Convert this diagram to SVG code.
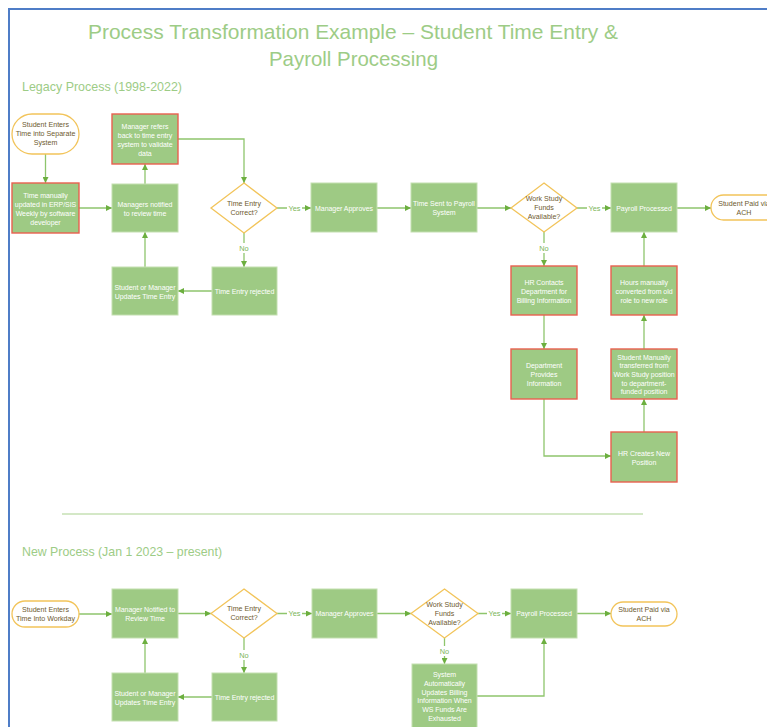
<svg xmlns="http://www.w3.org/2000/svg" width="767" height="727" viewBox="0 0 767 727">
<defs>
<marker id="ah" viewBox="0 0 10 10" refX="10" refY="5" markerWidth="6" markerHeight="6" markerUnits="userSpaceOnUse" orient="auto">
<path d="M0,0 L10,5 L0,10 z" fill="#6CAF3F"/>
</marker>
<style>
.bx{fill:#9ECA84;stroke:#C3DFB0;stroke-width:1}
.rd{fill:#9ECA84;stroke:#E9604F;stroke-width:1.4}
.pill{fill:#fff;stroke:#F2C45A;stroke-width:1.3}
.dm{fill:#fff;stroke:#F2C45A;stroke-width:1.3}
.t{font-family:"Liberation Sans",Arial,sans-serif;font-size:7px;letter-spacing:-0.05px;fill:#fff;text-anchor:middle;dominant-baseline:central}
.d{font-family:"Liberation Sans",Arial,sans-serif;font-size:7.1px;fill:#6E5A2F;text-anchor:middle;dominant-baseline:central}
.lb{font-family:"Liberation Sans",Arial,sans-serif;font-size:7.4px;fill:#7DB55A;text-anchor:middle;dominant-baseline:central}
.c{fill:none;stroke:#8EC56C;stroke-width:1.3;marker-end:url(#ah)}
.h{font-family:"Liberation Sans",Arial,sans-serif;fill:#9DCC86}
</style>
</defs>
<rect x="0" y="0" width="767" height="727" fill="#fff"/>
<path d="M9,727 V9 H767" fill="none" stroke="#4F7DC7" stroke-width="2"/>
<g id="title">
<text class="h" x="88" y="39" font-size="21" textLength="530" lengthAdjust="spacingAndGlyphs">Process Transformation Example – Student Time Entry &amp;</text>
<text class="h" x="269" y="66" font-size="21" textLength="169" lengthAdjust="spacingAndGlyphs">Payroll Processing</text>
<text class="h" x="22" y="91" font-size="13" textLength="160" lengthAdjust="spacingAndGlyphs">Legacy Process (1998-2022)</text>
<text class="h" x="22" y="556" font-size="13" textLength="200" lengthAdjust="spacingAndGlyphs">New Process (Jan 1 2023 – present)</text>
</g>
<line x1="62" y1="514" x2="643" y2="514" stroke="#A9D18E" stroke-width="1"/>

<g id="connectors">
<path class="c" d="M45.5,154 V183"/>
<path class="c" d="M79,208 H112"/>
<path class="c" d="M145,184 V164"/>
<path class="c" d="M178,139 H244 V183"/>
<path class="c" d="M277,208 H311"/>
<path class="c" d="M244,233 V267"/>
<path class="c" d="M212,291 H178"/>
<path class="c" d="M145,267 V232"/>
<path class="c" d="M377,208 H411"/>
<path class="c" d="M477,208 H511"/>
<path class="c" d="M577,208 H611"/>
<path class="c" d="M677,208 H711"/>
<path class="c" d="M544,232 V266"/>
<path class="c" d="M544,315 V349"/>
<path class="c" d="M544,399 V456 H611"/>
<path class="c" d="M644,432 V399"/>
<path class="c" d="M644,349 V315"/>
<path class="c" d="M644,266 V232"/>

<path class="c" d="M79,614 H112"/>
<path class="c" d="M178,613.5 H211"/>
<path class="c" d="M277,613.5 H312"/>
<path class="c" d="M244,638 V673"/>
<path class="c" d="M212,697 H178"/>
<path class="c" d="M145,673 V638"/>
<path class="c" d="M377,613.5 H411"/>
<path class="c" d="M478,613.5 H511"/>
<path class="c" d="M577,613.5 H611"/>
<path class="c" d="M444.5,638 V664"/>
<path class="c" d="M477,696 H544 V638"/>

<rect x="287" y="203" width="15" height="10" fill="#fff"/><text class="lb" x="294.5" y="208">Yes</text>
<rect x="238" y="243" width="12" height="10" fill="#fff"/><text class="lb" x="244" y="248.5">No</text>
<rect x="587" y="203" width="15" height="10" fill="#fff"/><text class="lb" x="594.5" y="208">Yes</text>
<rect x="538" y="243" width="12" height="10" fill="#fff"/><text class="lb" x="544" y="248.5">No</text>
<rect x="287" y="608.5" width="15" height="10" fill="#fff"/><text class="lb" x="294.5" y="613.5">Yes</text>
<rect x="238" y="650" width="12" height="10" fill="#fff"/><text class="lb" x="244" y="655">No</text>
<rect x="487" y="608.5" width="15" height="10" fill="#fff"/><text class="lb" x="494.5" y="613.5">Yes</text>
<rect x="438" y="646" width="12" height="10" fill="#fff"/><text class="lb" x="444.5" y="651">No</text>
</g>

<g id="n1"><rect class="pill" x="12" y="114" width="67" height="40" rx="20"/>
<text class="d" x="45.5"><tspan x="45.5" y="125">Student Enters</tspan><tspan x="45.5" y="134">Time into Separate</tspan><tspan x="45.5" y="143">System</tspan></text></g>
<g id="n2"><rect class="rd" x="12" y="183" width="67" height="50"/>
<text class="t"><tspan x="45.5" y="194.5">Time manually</tspan><tspan x="45.5" y="203.5">updated in ERP/SIS</tspan><tspan x="45.5" y="212.5">Weekly by software</tspan><tspan x="45.5" y="221.5">developer</tspan></text></g>
<g id="n3"><rect class="bx" x="112" y="184" width="66" height="48"/>
<text class="t"><tspan x="145" y="203.5">Managers notified</tspan><tspan x="145" y="212.5">to review time</tspan></text></g>
<g id="n4"><rect class="rd" x="112" y="114" width="66" height="50"/>
<text class="t"><tspan x="145" y="125.5">Manager refers</tspan><tspan x="145" y="134.5">back to time entry</tspan><tspan x="145" y="143.5">system to validate</tspan><tspan x="145" y="152.5">data</tspan></text></g>
<g id="n5"><rect class="bx" x="112" y="267" width="66" height="48"/>
<text class="t"><tspan x="145" y="286.5">Student or Manager</tspan><tspan x="145" y="295.5">Updates Time Entry</tspan></text></g>
<g id="n6"><rect class="bx" x="212" y="267" width="65" height="48"/>
<text class="t" x="244.5" y="291">Time Entry rejected</text></g>
<g id="n7"><path class="dm" d="M244,183 L277,208 L244,233 L211,208 Z"/>
<text class="d"><tspan x="244" y="203.5">Time Entry</tspan><tspan x="244" y="212.5">Correct?</tspan></text></g>
<g id="n8"><rect class="bx" x="311" y="183" width="66" height="49"/>
<text class="t" x="344" y="208">Manager Approves</text></g>
<g id="n9"><rect class="bx" x="411" y="183" width="66" height="49"/>
<text class="t"><tspan x="444" y="203">Time Sent to Payroll</tspan><tspan x="444" y="212">System</tspan></text></g>
<g id="n10"><path class="dm" d="M544,183 L577,208 L544,232 L511,208 Z"/>
<text class="d"><tspan x="544" y="199">Work Study</tspan><tspan x="544" y="208">Funds</tspan><tspan x="544" y="217">Available?</tspan></text></g>
<g id="n11"><rect class="bx" x="611" y="183" width="66" height="49"/>
<text class="t" x="644" y="208">Payroll Processed</text></g>
<g id="n12"><rect class="pill" x="711" y="195" width="68" height="25" rx="12.5"/>
<text class="d"><tspan x="744" y="203.5">Student Paid via</tspan><tspan x="744" y="212.5">ACH</tspan></text></g>
<g id="n13"><rect class="rd" x="511" y="266" width="66" height="49"/>
<text class="t"><tspan x="544" y="281.5">HR Contacts</tspan><tspan x="544" y="290.5">Department for</tspan><tspan x="544" y="299.5">Billing Information</tspan></text></g>
<g id="n14"><rect class="rd" x="611" y="266" width="66" height="49"/>
<text class="t"><tspan x="644" y="281.5">Hours manually</tspan><tspan x="644" y="290.5">converted from old</tspan><tspan x="644" y="299.5">role to new role</tspan></text></g>
<g id="n15"><rect class="rd" x="511" y="349" width="66" height="50"/>
<text class="t"><tspan x="544" y="365">Department</tspan><tspan x="544" y="374">Provides</tspan><tspan x="544" y="383">Information</tspan></text></g>
<g id="n16"><rect class="rd" x="611" y="349" width="66" height="50"/>
<text class="t"><tspan x="644" y="356.5">Student Manually</tspan><tspan x="644" y="365.2">transferred from</tspan><tspan x="644" y="373.9">Work Study position</tspan><tspan x="644" y="382.6">to department-</tspan><tspan x="644" y="391.3">funded position</tspan></text></g>
<g id="n17"><rect class="rd" x="611" y="432" width="66" height="50"/>
<text class="t"><tspan x="644" y="452.5">HR Creates New</tspan><tspan x="644" y="461.5">Position</tspan></text></g>

<g id="m1"><rect class="pill" x="12" y="601" width="67" height="26" rx="13"/>
<text class="d"><tspan x="45.5" y="609.5">Student Enters</tspan><tspan x="45.5" y="618.5">Time Into Workday</tspan></text></g>
<g id="m2"><rect class="bx" x="112" y="589" width="66" height="49"/>
<text class="t"><tspan x="145" y="609">Manager Notified to</tspan><tspan x="145" y="618">Review Time</tspan></text></g>
<g id="m3"><path class="dm" d="M244,589 L277,613.5 L244,638 L211,613.5 Z"/>
<text class="d"><tspan x="244" y="609">Time Entry</tspan><tspan x="244" y="618">Correct?</tspan></text></g>
<g id="m4"><rect class="bx" x="312" y="589" width="65" height="49"/>
<text class="t" x="344.5" y="613.5">Manager Approves</text></g>
<g id="m5"><rect class="bx" x="112" y="673" width="66" height="48"/>
<text class="t"><tspan x="145" y="692.5">Student or Manager</tspan><tspan x="145" y="701.5">Updates Time Entry</tspan></text></g>
<g id="m6"><rect class="bx" x="212" y="673" width="65" height="48"/>
<text class="t" x="244.5" y="697">Time Entry rejected</text></g>
<g id="m7"><path class="dm" d="M444.5,589 L478,613.5 L444.5,638 L411,613.5 Z"/>
<text class="d"><tspan x="444.5" y="604.5">Work Study</tspan><tspan x="444.5" y="613.5">Funds</tspan><tspan x="444.5" y="622.5">Available?</tspan></text></g>
<g id="m8"><rect class="bx" x="511" y="589" width="66" height="49"/>
<text class="t" x="544" y="613.5">Payroll Processed</text></g>
<g id="m9"><rect class="pill" x="611" y="602" width="66" height="24" rx="12"/>
<text class="d"><tspan x="644" y="609.5">Student Paid via</tspan><tspan x="644" y="618.5">ACH</tspan></text></g>
<g id="m10"><rect class="bx" x="412" y="664" width="65" height="66"/>
<text class="t"><tspan x="444.5" y="674">System</tspan><tspan x="444.5" y="682.8">Automatically</tspan><tspan x="444.5" y="691.6">Updates Billing</tspan><tspan x="444.5" y="700.4">Information When</tspan><tspan x="444.5" y="709.2">WS Funds Are</tspan><tspan x="444.5" y="718">Exhausted</tspan></text></g>
</svg>
